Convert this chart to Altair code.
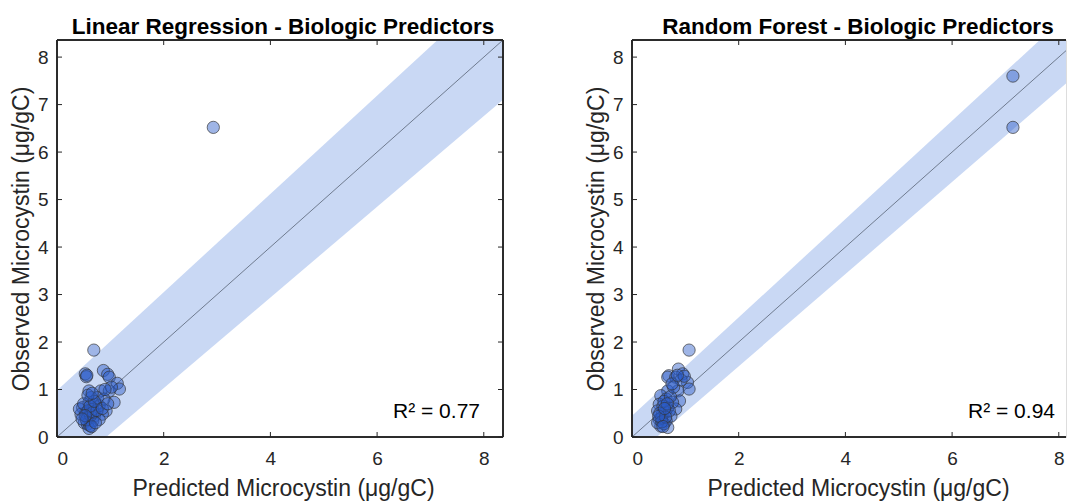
import altair as alt
import pandas as pd

# ---------------- data ----------------
lr_pred = [2.93, 0.69, 0.53, 0.55, 0.56, 0.87, 0.95, 0.98, 1.13, 1.17, 1.07,
           0.60, 0.82, 0.98, 1.02, 0.48, 0.60, 0.73, 0.92, 0.45, 0.57, 0.70,
           0.85, 0.51, 0.57, 0.67, 0.60, 0.79, 0.54, 0.67, 0.79, 0.42, 0.64,
           0.76, 0.88, 0.62, 0.55, 0.63, 0.50, 0.58, 0.68, 0.75, 0.62, 0.70,
           0.65, 0.72, 0.53, 0.47, 0.85, 0.95, 0.58, 0.66, 0.90]
lr_obs = [6.52, 1.83, 1.33, 1.27, 1.30, 1.40, 1.32, 1.26, 1.13, 1.01, 0.73,
          0.97, 0.97, 0.97, 1.05, 0.62, 0.73, 0.69, 0.55, 0.48, 0.41, 0.44,
          0.48, 0.30, 0.27, 0.34, 0.18, 0.37, 0.51, 0.59, 0.66, 0.59, 0.83,
          0.83, 0.80, 0.24, 0.36, 0.45, 0.70, 0.55, 0.52, 0.56, 0.65, 0.75,
          0.22, 0.30, 0.45, 0.38, 0.60, 0.70, 0.88, 0.92, 1.00]

rf_pred = [7.14, 7.14, 1.07, 0.69, 0.67, 0.87, 0.95, 1.04, 1.07, 0.82, 0.86,
           0.67, 0.54, 0.89, 0.64, 0.51, 0.82, 0.67, 0.48, 0.57, 0.73, 0.51,
           0.64, 0.54, 0.67, 0.48, 0.76, 0.60, 0.55, 0.62, 0.58, 0.70, 0.52,
           0.60, 0.72, 0.78, 0.92, 0.98, 0.56, 0.63, 0.50, 0.66, 0.75, 0.85,
           0.58, 0.61]
rf_obs = [7.60, 6.52, 1.83, 1.29, 1.26, 1.43, 1.33, 1.15, 1.01, 1.26, 0.97,
          0.97, 0.87, 0.76, 0.80, 0.69, 0.59, 0.62, 0.55, 0.48, 0.44, 0.37,
          0.34, 0.23, 0.20, 0.30, 0.73, 0.28, 0.40, 0.52, 0.65, 0.55, 0.50,
          0.75, 0.85, 1.05, 1.20, 1.28, 0.32, 0.42, 0.44, 0.70, 1.12, 1.30,
          0.22, 0.60]

axis_max = 8.36
band_x = [0.0, 8.36]
lr_band_lower = [-0.88, 7.10]
lr_band_upper = [0.98, 9.63]
rf_band_lower = [-0.45, 7.66]
rf_band_upper = [0.45, 9.10]
ref_line = [0.0, 8.36]

x_ticks = [0, 2, 4, 6, 8]
y_ticks = [0, 1, 2, 3, 4, 5, 6, 7, 8]

titles = ["Linear Regression - Biologic Predictors", "Random Forest - Biologic Predictors"]
r2_labels = ["R\u00b2 = 0.77", "R\u00b2 = 0.94"]

x_title = "Predicted Microcystin (\u03bcg/gC)"
y_title = "Observed Microcystin (\u03bcg/gC)"

# ---------------- style ----------------
W, H = 446, 397
FONT = "Liberation Sans"
AX = "#262626"
BAND = "#c9d8f4"
LINE = "#6f7b8f"


def panel(pred, obs, lower, upper, title, r2, width, right_edge):
    xmax = axis_max * width / W
    xs = alt.Scale(domain=[0, xmax], nice=False, zero=False)
    ys = alt.Scale(domain=[0, axis_max], nice=False, zero=False)

    pts = pd.DataFrame({"pred": pred, "obs": obs})
    band = pd.DataFrame({"x": band_x, "lo": lower, "hi": upper})
    line = pd.DataFrame({"x": ref_line, "y": ref_line})
    xt = pd.DataFrame({"v": x_ticks})
    yt = pd.DataFrame({"v": y_ticks})

    xaxis = alt.Axis(values=x_ticks, format="d", ticks=False, grid=False,
                     domain=False, labelFontSize=19, labelFont=FONT,
                     labelColor=AX, labelPadding=12, title=x_title,
                     titleFontSize=23, titleFont=FONT, titleFontWeight="normal",
                     titleColor=AX, titlePadding=9, titleX=W / 2 + 3)
    yaxis = alt.Axis(values=y_ticks, format="d", ticks=False, grid=False,
                     domain=False, labelFontSize=19, labelFont=FONT,
                     labelColor=AX, labelPadding=9, title=y_title,
                     titleFontSize=23, titleFont=FONT, titleFontWeight="normal",
                     titleColor=AX, titlePadding=4)

    b = alt.Chart(band).mark_area(clip=True, color=BAND, opacity=1).encode(
        x=alt.X("x:Q", scale=xs, axis=xaxis),
        y=alt.Y("lo:Q", scale=ys, axis=yaxis),
        y2="hi:Q",
    )
    l = alt.Chart(line).mark_line(clip=True, color=LINE, strokeWidth=1).encode(
        x=alt.X("x:Q", scale=xs), y=alt.Y("y:Q", scale=ys))
    p = alt.Chart(pts).mark_circle(size=150, fill="#2a5ac8", fillOpacity=0.45,
                                   stroke="#333333", strokeOpacity=0.75,
                                   strokeWidth=0.9, opacity=1).encode(
        x=alt.X("pred:Q", scale=xs), y=alt.Y("obs:Q", scale=ys))
    t = alt.Chart(pd.DataFrame({"t": [r2]})).mark_text(
        align="right", baseline="alphabetic", fontSize=21, font=FONT,
        color="black").encode(x=alt.value(423), y=alt.value(378), text="t:N")

    # box edges
    edges = [
        alt.Chart(xt).mark_rule(color=AX, strokeWidth=1).encode(
            x=alt.value(0), x2=alt.value(width), y=alt.value(0)),
        alt.Chart(xt).mark_rule(color=AX, strokeWidth=1).encode(
            x=alt.value(0), x2=alt.value(width), y=alt.value(H)),
        alt.Chart(xt).mark_rule(color=AX, strokeWidth=1).encode(
            x=alt.value(0), y=alt.value(0), y2=alt.value(H)),
    ]
    if right_edge:
        edges.append(alt.Chart(xt).mark_rule(color=AX, strokeWidth=1).encode(
            x=alt.value(width), y=alt.value(0), y2=alt.value(H)))

    ticks = [
        alt.Chart(xt).mark_rule(color=AX, strokeWidth=1).encode(
            x=alt.X("v:Q", scale=xs), y=alt.value(H), y2=alt.value(H - 5)),
        alt.Chart(xt).mark_rule(color=AX, strokeWidth=1).encode(
            x=alt.X("v:Q", scale=xs), y=alt.value(0), y2=alt.value(5)),
        alt.Chart(yt).mark_rule(color=AX, strokeWidth=1).encode(
            y=alt.Y("v:Q", scale=ys), x=alt.value(0), x2=alt.value(5)),
    ]
    if right_edge:
        ticks.append(alt.Chart(yt).mark_rule(color=AX, strokeWidth=1).encode(
            y=alt.Y("v:Q", scale=ys), x=alt.value(width), x2=alt.value(width - 5)))

    return alt.layer(b, l, p, t, *edges, *ticks).properties(
        width=width, height=H,
        title=alt.TitleParams(title, fontSize=22.5, fontWeight="bold", font=FONT,
                              color="black", anchor="middle", offset=1,
                              dx=(W - width) / 2 + 3))


left = panel(lr_pred, lr_obs, lr_band_lower, lr_band_upper, titles[0],
             r2_labels[0], W, True)
right = panel(rf_pred, rf_obs, rf_band_lower, rf_band_upper, titles[1],
              r2_labels[1], 434, False)

chart = alt.hconcat(left, right, spacing=129, bounds="flush").properties(
    padding={"left": 9, "top": 15, "right": 0, "bottom": 0}
).configure_view(stroke=None).configure(background="white")

chart.save("out.html", embed_options={"renderer": "svg", "actions": False})
